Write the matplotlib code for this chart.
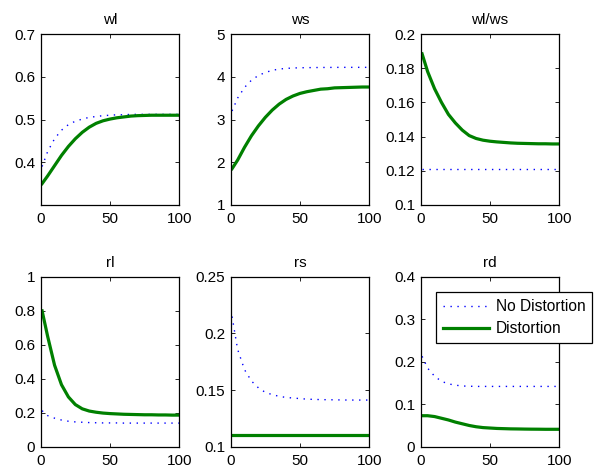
import matplotlib
matplotlib.use("Agg")
import matplotlib.pyplot as plt

plt.rcParams['font.family'] = ['Liberation Sans', 'DejaVu Sans']

periods = [1, 5, 10, 15, 20, 25, 30, 35, 40, 45, 50, 55, 60, 65, 70, 75, 80, 85, 90, 95, 100]

wl_nodist = [0.390, 0.425, 0.455, 0.475, 0.488, 0.496, 0.501, 0.505, 0.507, 0.509, 0.510,
             0.511, 0.511, 0.512, 0.512, 0.512, 0.512, 0.512, 0.512, 0.512, 0.512]
wl_dist = [0.350, 0.368, 0.392, 0.416, 0.437, 0.455, 0.470, 0.482, 0.491, 0.497, 0.501,
           0.504, 0.506, 0.508, 0.509, 0.5095, 0.510, 0.510, 0.510, 0.510, 0.510]

ws_nodist = [3.20, 3.50, 3.75, 3.92, 4.03, 4.10, 4.15, 4.18, 4.195, 4.205, 4.21,
             4.213, 4.215, 4.217, 4.218, 4.219, 4.22, 4.22, 4.22, 4.22, 4.22]
ws_dist = [1.85, 2.05, 2.35, 2.62, 2.85, 3.05, 3.22, 3.36, 3.47, 3.55, 3.61,
           3.65, 3.68, 3.71, 3.72, 3.74, 3.745, 3.75, 3.755, 3.76, 3.76]

ratio_nodist = [0.121] * 21
ratio_dist = [0.1884, 0.178, 0.168, 0.160, 0.153, 0.148, 0.1438, 0.1406, 0.1389, 0.1379, 0.1373,
              0.1369, 0.1366, 0.1363, 0.1361, 0.136, 0.1359, 0.1358, 0.1358, 0.1357, 0.1357]

rl_nodist = [0.212, 0.183, 0.168, 0.157, 0.150, 0.146, 0.144, 0.142, 0.141, 0.140, 0.140,
             0.140, 0.139, 0.139, 0.139, 0.139, 0.139, 0.139, 0.139, 0.139, 0.139]
rl_dist = [0.80, 0.65, 0.48, 0.365, 0.293, 0.248, 0.223, 0.210, 0.203, 0.198, 0.195,
           0.193, 0.191, 0.190, 0.189, 0.188, 0.188, 0.187, 0.187, 0.186, 0.186]

rs_nodist = [0.215, 0.186, 0.168, 0.158, 0.152, 0.148, 0.146, 0.1445, 0.1435, 0.143, 0.1425,
             0.142, 0.1418, 0.1416, 0.1415, 0.1414, 0.1413, 0.1412, 0.1412, 0.1412, 0.1412]
rs_dist = [0.110] * 21

rd_nodist = [0.213, 0.185, 0.166, 0.154, 0.148, 0.145, 0.143, 0.1425, 0.142, 0.142, 0.142,
             0.142, 0.142, 0.142, 0.142, 0.142, 0.142, 0.142, 0.142, 0.142, 0.142]
rd_dist = [0.073, 0.073, 0.071, 0.067, 0.063, 0.058, 0.054, 0.050, 0.047, 0.045, 0.044,
           0.043, 0.0425, 0.042, 0.0418, 0.0415, 0.0413, 0.0412, 0.041, 0.041, 0.041]

titles = ['wl', 'ws', 'wl/ws', 'rl', 'rs', 'rd']
series_nodist = [wl_nodist, ws_nodist, ratio_nodist, rl_nodist, rs_nodist, rd_nodist]
series_dist = [wl_dist, ws_dist, ratio_dist, rl_dist, rs_dist, rd_dist]
ylims = [(0.3, 0.7), (1, 5), (0.1, 0.2), (0, 1), (0.1, 0.25), (0, 0.4)]
yticks = [[0.4, 0.5, 0.6, 0.7], [1, 2, 3, 4, 5], [0.1, 0.12, 0.14, 0.16, 0.18, 0.2],
          [0, 0.2, 0.4, 0.6, 0.8, 1], [0.1, 0.15, 0.2, 0.25], [0, 0.1, 0.2, 0.3, 0.4]]
yticklabels = [['0.4', '0.5', '0.6', '0.7'], ['1', '2', '3', '4', '5'],
               ['0.1', '0.12', '0.14', '0.16', '0.18', '0.2'],
               ['0', '0.2', '0.4', '0.6', '0.8', '1'], ['0.1', '0.15', '0.2', '0.25'],
               ['0', '0.1', '0.2', '0.3', '0.4']]
xticks = [0, 50, 100]

fig = plt.figure(figsize=(5.97, 4.73), dpi=100)
lefts = [0.0682, 0.3864, 0.7047]
bottoms = [0.5666, 0.0556]
heights = [0.3615, 0.359]
width = 0.232

handles = None
for i in range(6):
    r, c = divmod(i, 3)
    ax = fig.add_axes([lefts[c], bottoms[r], width, heights[r]])
    h1, = ax.plot(periods, series_nodist[i], color='#0000FF', lw=1.0,
                  linestyle=(0, (1, 4)), label='No Distortion')
    h2, = ax.plot(periods, series_dist[i], color='#008000', lw=2.3,
                  label='Distortion', solid_joinstyle='round')
    handles = [h1, h2]
    ax.set_xlim(0, 100)
    ax.set_ylim(*ylims[i])
    ax.set_xticks(xticks)
    ax.set_xticklabels([str(v) for v in xticks])
    ax.set_yticks(yticks[i])
    ax.set_yticklabels(yticklabels[i])
    ax.tick_params(direction='in', top=True, right=True, length=3, width=0.6,
                   labelsize=11, pad=4)
    ax.tick_params(axis='x', pad=5)
    for s in ax.spines.values():
        s.set_linewidth(0.9)
    ax.set_title(titles[i], fontsize=11, pad=7)

leg = fig.legend(handles, ['No Distortion', 'Distortion'], loc='upper left',
                 bbox_to_anchor=(0.7298, 0.382), borderaxespad=0, fontsize=11.2,
                 frameon=True, fancybox=False, edgecolor='black', framealpha=1,
                 handlelength=3.0, borderpad=0.45, labelspacing=0.45, handletextpad=0.4)
leg.get_frame().set_linewidth(0.9)

fig.savefig('out.png', dpi=100)
